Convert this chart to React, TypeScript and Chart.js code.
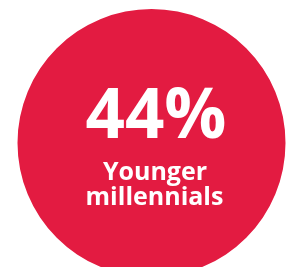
import React, { useEffect, useRef } from "react";
import { Chart, registerables } from "chart.js";

Chart.register(...registerables);

const segments = ["Younger millennials"];
const segmentValues = [100];
const percentLabel = "44%";
const captionLines = ["Younger", "millennials"];
const circleColor = "#E31B41";

const textPlugin = {
  id: "centerText",
  afterDraw(chart: any) {
    const { ctx } = chart;
    ctx.save();
    ctx.fillStyle = "#ffffff";
    ctx.textAlign = "center";
    ctx.textBaseline = "alphabetic";
    ctx.font = "bold 69px 'Open Sans'";
    ctx.fillText(percentLabel, 156, 138);
    ctx.font = "bold 25px 'Open Sans'";
    ctx.fillText(captionLines[0], 155, 180);
    ctx.fillText(captionLines[1], 154.5, 204.5);
    ctx.restore();
  },
};

export default function App() {
  const ref = useRef<HTMLCanvasElement>(null);
  useEffect(() => {
    document.body.style.margin = "0";
    document.body.style.overflow = "hidden";
    const chart = new Chart(ref.current!, {
      type: "pie",
      data: {
        labels: segments,
        datasets: [
          {
            data: segmentValues,
            backgroundColor: [circleColor],
            borderWidth: 0,
          },
        ],
      },
      options: {
        responsive: false,
        animation: false,
        events: [],
        layout: { padding: { top: 9, bottom: 13, left: 17.5, right: 4.5 } },
        plugins: { legend: { display: false }, tooltip: { enabled: false } },
      },
      plugins: [textPlugin],
    });
    return () => chart.destroy();
  }, []);
  return (
    <div style={{ position: "fixed", left: 0, top: 0, width: 290, height: 267, overflow: "hidden", background: "#fff" }}>
      <canvas ref={ref} width={290} height={290} style={{ display: "block" }} />
    </div>
  );
}
